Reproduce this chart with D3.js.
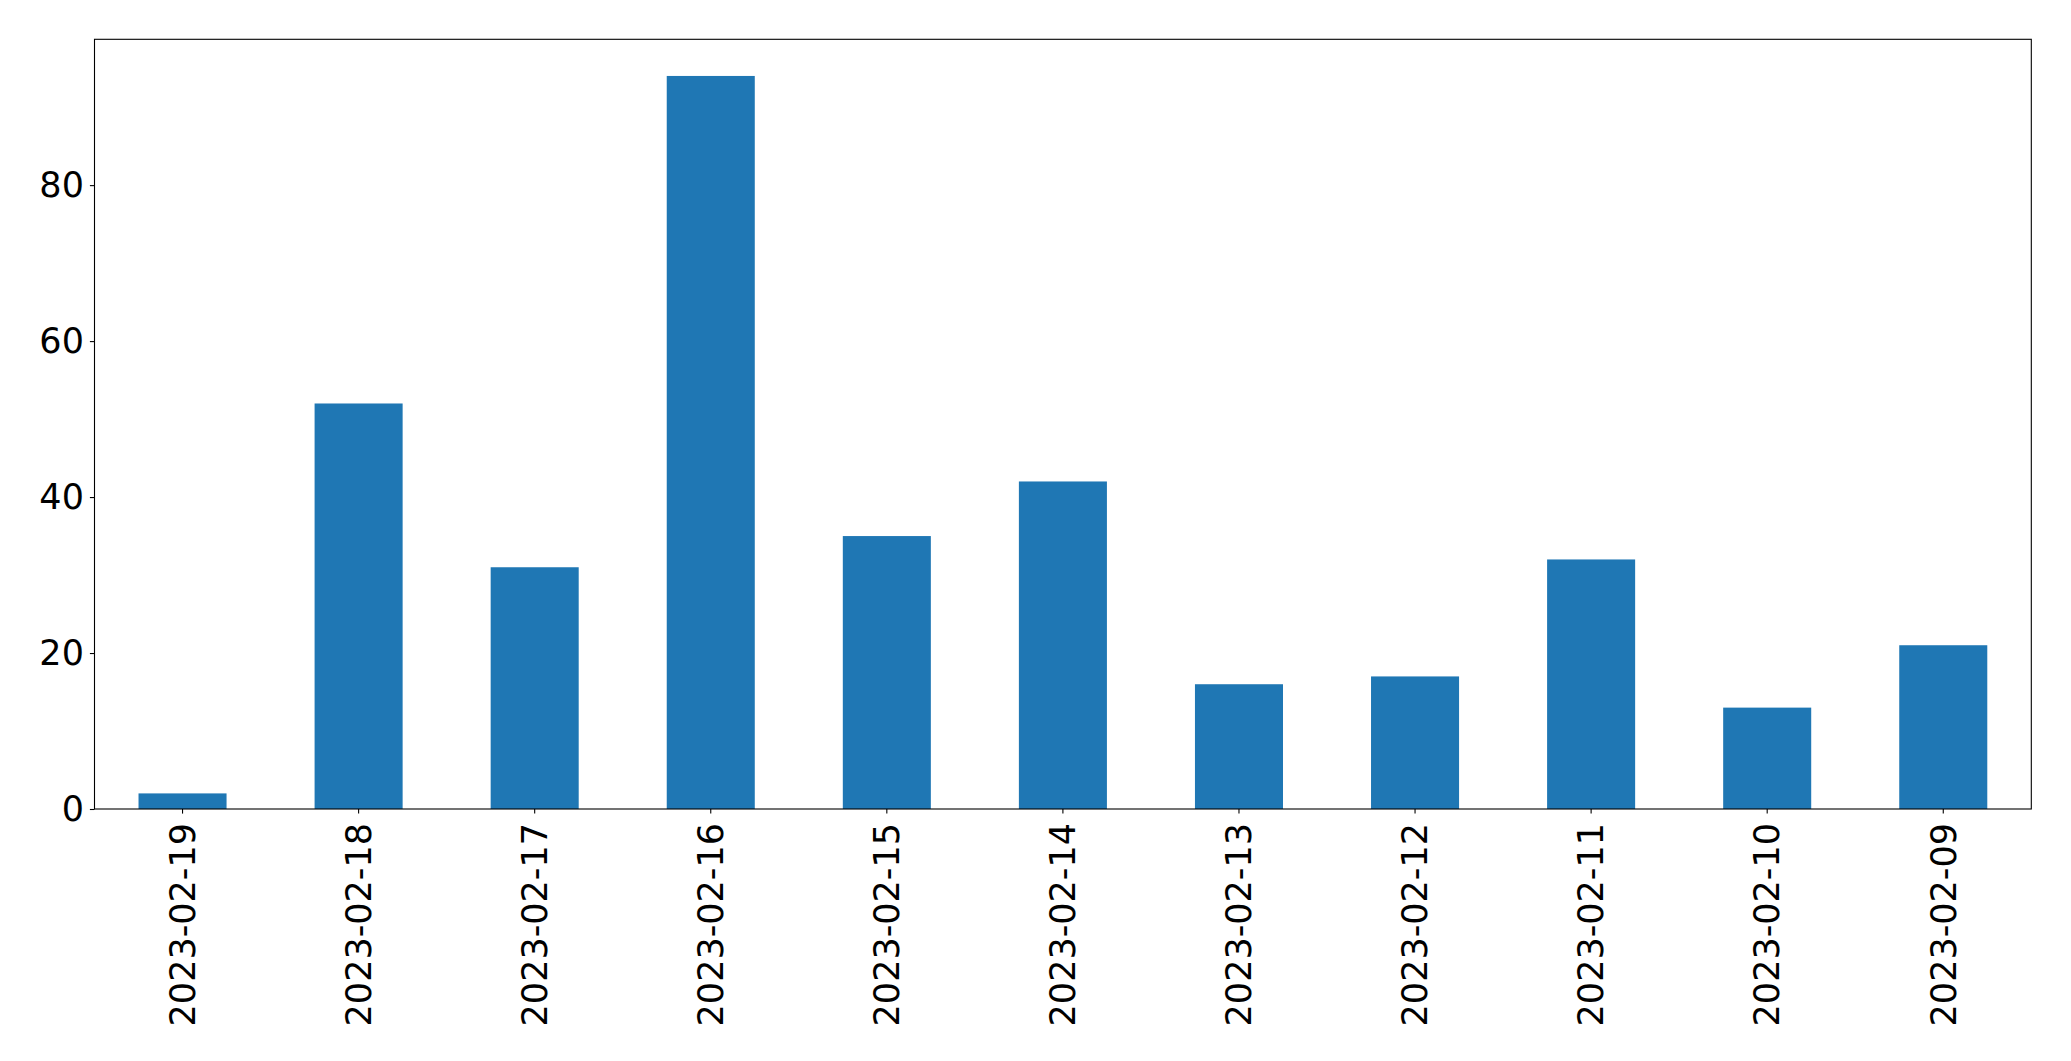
<!DOCTYPE html>
<html>
<head>
<meta charset="utf-8">
<script src="https://cdn.jsdelivr.net/npm/d3@7"></script>
<style>
html, body { margin: 0; padding: 0; background: #fff; }
svg { display: block; }
</style>
</head>
<body>
<script>
const categories = ["2023-02-19","2023-02-18","2023-02-17","2023-02-16","2023-02-15","2023-02-14","2023-02-13","2023-02-12","2023-02-11","2023-02-10","2023-02-09"];
const values = [2, 52, 31, 94, 35, 42, 16, 17, 32, 13, 21];
const yTicks = [0, 20, 40, 60, 80];

const W = 2071, H = 1061;
const margin = {left: 94.5, right: W - 2031.3, top: 39.3, bottom: H - 809};
const iw = W - margin.left - margin.right;
const ih = H - margin.top - margin.bottom;

const svg = d3.select("body").append("svg").attr("width", W).attr("height", H);
const g = svg.append("g").attr("transform", `translate(${margin.left},${margin.top})`);

const x = d3.scaleBand().domain(categories).range([0, iw]).paddingInner(0.5).paddingOuter(0.25);
const yMax = d3.max(values) * 1.05;
const y = d3.scaleLinear().domain([0, yMax]).range([ih, 0]);

g.selectAll("rect.bar").data(values).enter().append("rect")
  .attr("class", "bar")
  .attr("x", (d, i) => x(categories[i]))
  .attr("width", x.bandwidth())
  .attr("y", d => y(d))
  .attr("height", d => y(0) - y(d))
  .attr("fill", "#1f77b4");

const font = "'DejaVu Sans', sans-serif";
const fs = 35;

const yAxis = g.append("g").call(d3.axisLeft(y).tickValues(yTicks).tickSize(4.6).tickPadding(6).tickFormat(d3.format("d")));
yAxis.select(".domain").remove();
yAxis.selectAll("line").attr("stroke", "#000").attr("stroke-width", 1.1);
yAxis.selectAll("text").attr("font-family", font).attr("font-size", fs).attr("fill", "#000");

const xAxis = g.append("g").attr("transform", `translate(0,${ih})`).call(d3.axisBottom(x).tickSize(4.6).tickPadding(0));
xAxis.select(".domain").remove();
xAxis.selectAll("line").attr("stroke", "#000").attr("stroke-width", 1.1);
xAxis.selectAll("text")
  .attr("font-family", font).attr("font-size", fs).attr("fill", "#000")
  .attr("text-anchor", "end")
  .attr("transform", "translate(0,14) rotate(-90)")
  .attr("x", 0).attr("y", 0).attr("dy", "0.35em");

g.append("rect").attr("x", 0).attr("y", 0).attr("width", iw).attr("height", ih)
  .attr("fill", "none").attr("stroke", "#000").attr("stroke-width", 1.1);
</script>
</body>
</html>
